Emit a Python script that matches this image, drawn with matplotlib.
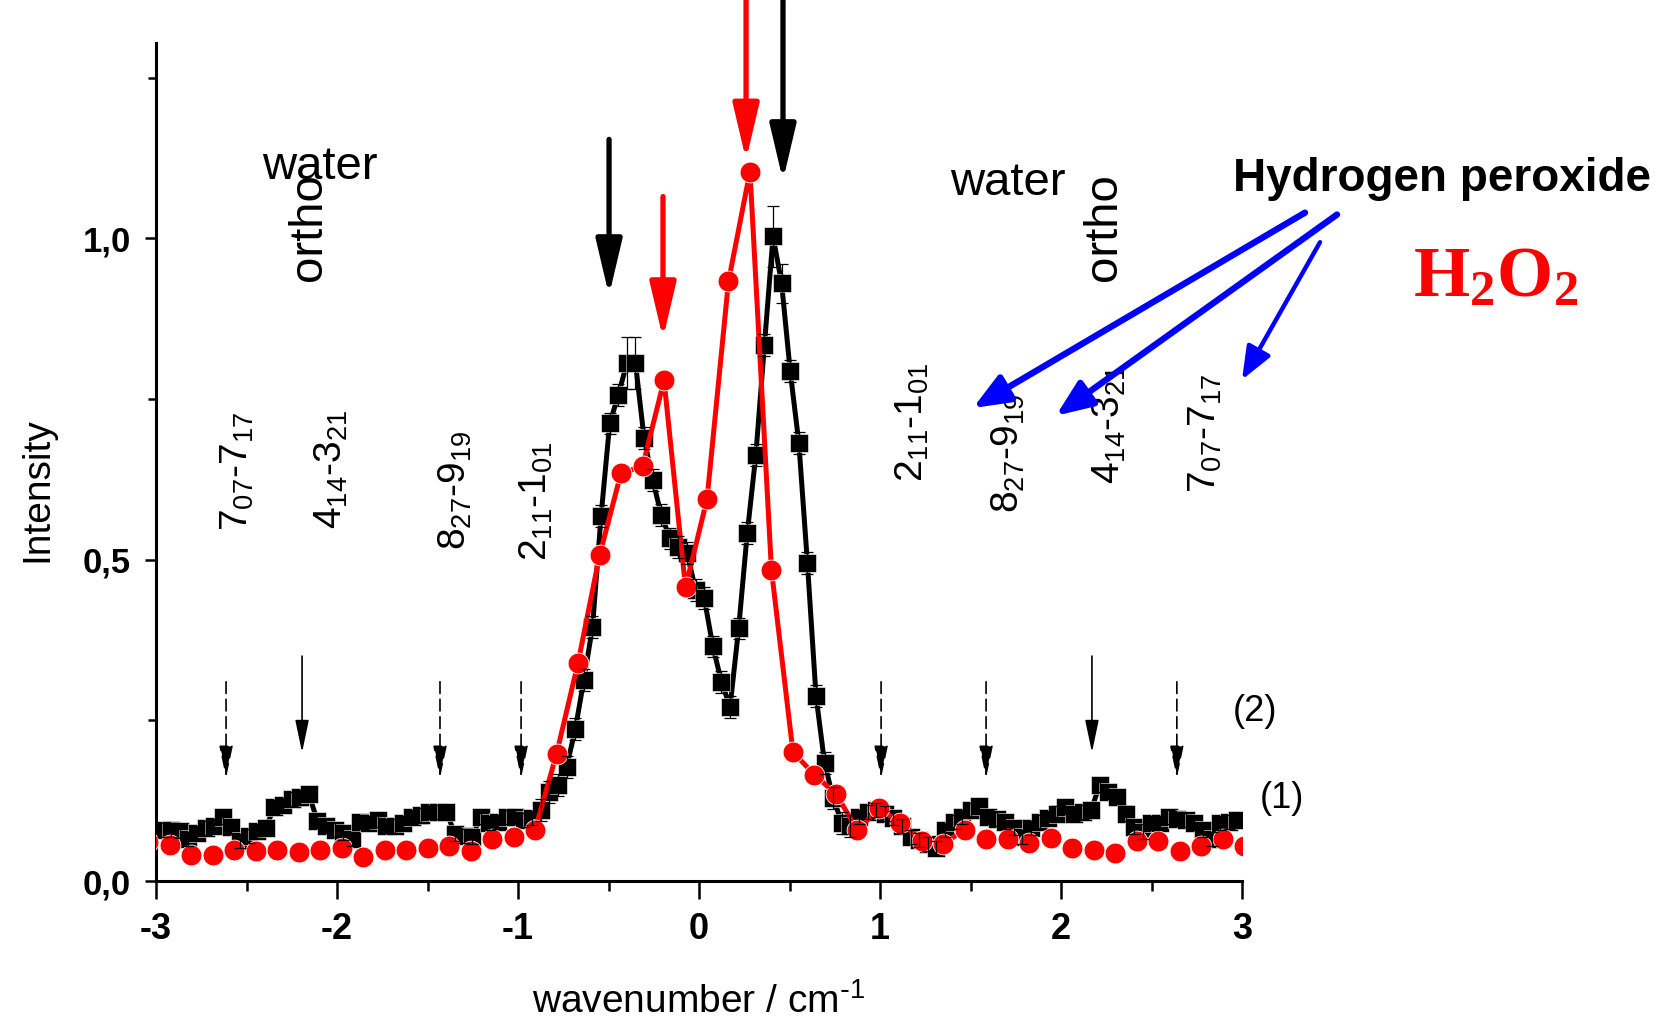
import numpy as np
import matplotlib
matplotlib.use('Agg')
import matplotlib.pyplot as plt

plt.rcParams['font.family'] = ['Liberation Sans', 'DejaVu Sans']
plt.rcParams['mathtext.default'] = 'regular'
plt.rcParams['axes.unicode_minus'] = False

# spectrum (1): black squares, sampled every ~0.0475 cm-1 starting at -2.9635
blk_start, blk_step = -2.9635, 0.0475
blk_y = [0.080, 0.080, 0.078, 0.066, 0.075, 0.082, 0.085, 0.100, 0.084, 0.062,
         0.070, 0.078, 0.083, 0.115, 0.118, 0.128, 0.130, 0.135, 0.094, 0.085,
         0.080, 0.075, 0.065, 0.092, 0.090, 0.095, 0.086, 0.085, 0.090, 0.100,
         0.102, 0.107, 0.108, 0.108, 0.073, 0.070, 0.068, 0.100, 0.090, 0.092,
         0.100, 0.100, 0.095, 0.098, 0.110, 0.139, 0.150, 0.178, 0.236, 0.313,
         0.395, 0.568, 0.712, 0.756, 0.806, 0.806, 0.689, 0.624, 0.570, 0.533,
         0.520, 0.510, 0.453, 0.440, 0.365, 0.310, 0.271, 0.393, 0.541, 0.663,
         0.834, 1.003, 0.930, 0.793, 0.682, 0.495, 0.288, 0.183, 0.129, 0.090,
         0.085, 0.100, 0.108, 0.110, 0.105, 0.098, 0.085, 0.069, 0.064, 0.058,
         0.051, 0.080, 0.092, 0.100, 0.110, 0.116, 0.100, 0.097, 0.092, 0.083,
         0.069, 0.082, 0.092, 0.098, 0.105, 0.115, 0.105, 0.107, 0.110, 0.150,
         0.139, 0.131, 0.105, 0.084, 0.077, 0.090, 0.090, 0.100, 0.097, 0.095,
         0.090, 0.080, 0.066, 0.090, 0.092, 0.095]
blk_x = blk_start + blk_step * np.arange(len(blk_y))
blk_err = np.full(len(blk_y), 0.011)
blk_err[44:81] = 0.017
blk_err[[54, 55]] = 0.04
blk_err[[71]] = 0.047
blk_err[[72]] = 0.03

# spectrum (2): red circles, sampled every ~0.1187 cm-1 starting at -3.042
red_start, red_step = -3.042, 0.1187
red_y = [0.060, 0.056, 0.040, 0.041, 0.048, 0.047, 0.049, 0.045, 0.049, 0.052,
         0.038, 0.048, 0.048, 0.052, 0.054, 0.046, 0.066, 0.068, 0.080, 0.198,
         0.340, 0.507, 0.635, 0.645, 0.779, 0.457, 0.594, 0.933, 1.104, 0.484,
         0.201, 0.165, 0.136, 0.079, 0.113, 0.091, 0.063, 0.058, 0.080, 0.066,
         0.066, 0.059, 0.067, 0.051, 0.048, 0.043, 0.063, 0.062, 0.046, 0.054,
         0.066, 0.054]
red_x = red_start + red_step * np.arange(len(red_y))
red_line_from, red_line_to = 18, 39

# water transitions (x positions of the thin arrows)
water_dashed = [-2.613, -1.431, -0.983, 1.006, 1.586, 2.640]
water_solid = [-2.193, 2.171]
water_labels = ['7$_{07}$-7$_{17}$', '4$_{14}$-3$_{21}$', '8$_{27}$-9$_{19}$', '2$_{11}$-1$_{01}$',
                '2$_{11}$-1$_{01}$', '8$_{27}$-9$_{19}$', '4$_{14}$-3$_{21}$', '7$_{07}$-7$_{17}$']

fig = plt.figure(figsize=(16.72, 10.30), dpi=100)
ax = fig.add_axes([156/1672, 149/1030, 1086/1672, 838/1030])
ax.set_xlim(-3, 3)
ax.set_ylim(0, 1.304)

ax.plot(blk_x, blk_y, '-', color='black', lw=3.6, zorder=2)
ax.plot(blk_x, blk_y, 's', ms=13, mfc='black', mec='white', mew=0.4, zorder=2.1)
ax.plot(red_x[red_line_from:red_line_to], red_y[red_line_from:red_line_to], '-',
        color='#ff0000', lw=3.6, zorder=3)
ax.plot(red_x, red_y, 'o', ms=15, mfc='#ff0000', mec='white', mew=0.6, zorder=3.1)
ax.errorbar(blk_x, blk_y, yerr=blk_err, fmt='none', ecolor='black',
            elinewidth=0.9, capsize=4, capthick=0.9, zorder=4)

for s in ['top', 'right']:
    ax.spines[s].set_visible(False)
for s in ['left', 'bottom']:
    ax.spines[s].set_linewidth(2.2)

ax.set_xticks([-3, -2, -1, 0, 1, 2, 3])
ax.set_xticks([-2.5, -1.5, -0.5, 0.5, 1.5, 2.5], minor=True)
ax.set_yticks([0, 0.5, 1.0])
ax.set_yticklabels(['0,0', '0,5', '1,0'])
ax.set_yticks([0.25, 0.75, 1.25], minor=True)
ax.tick_params(axis='x', which='major', length=13, width=1.8, direction='out', pad=9,
               labelsize=26)
ax.tick_params(axis='x', which='minor', length=7, width=1.8, direction='out')
ax.tick_params(axis='y', which='major', length=8, width=1.8, direction='out', pad=10,
               labelsize=25)
ax.tick_params(axis='y', which='minor', length=6, width=1.8, direction='out')
for lab in ax.get_xticklabels() + ax.get_yticklabels():
    lab.set_fontweight('bold')

fig.text(37/1672, 1 - 490/1030, 'Intensity', rotation=90, ha='center', va='center',
         fontsize=28)
fig.text(698/1672, 1 - 1002/1030, r'wavenumber / cm$^{\text{-}1}$', ha='center', va='center',
         fontsize=28)


def arrow(x0, y0, x1, y1, color, lw, hl, hw, ls='-'):
    ax.annotate('', xy=(x1, y1), xytext=(x0, y0), annotation_clip=False,
                arrowprops=dict(arrowstyle='-|>,head_length=%g,head_width=%g' % (hl, hw),
                                color=color, lw=lw, ls=ls, mutation_scale=1,
                                shrinkA=0, shrinkB=0), zorder=5)


# big peak arrows
arrow(-0.497, 1.154, -0.497, 0.911, 'black', 3.8, 34, 8)
arrow(0.464, 1.37, 0.464, 1.09, 'black', 3.8, 34, 8)
arrow(-0.199, 1.065, -0.199, 0.844, '#ff0000', 3.8, 34, 8)
arrow(0.260, 1.40, 0.260, 1.122, '#ff0000', 3.8, 34, 8)

# thin water-line arrows
for x in water_dashed:
    arrow(x, 0.31, x, 0.16, 'black', 1.2, 20, 4.2, ls=(0, (7, 3.5)))
for x in water_solid:
    arrow(x, 0.35, x, 0.20, 'black', 1.2, 20, 4.2)

# transition labels
lab_pos = [(-2.552, 0.638), (-2.033, 0.640), (-1.348, 0.608), (-0.900, 0.591),
           (1.177, 0.714), (1.707, 0.666), (2.265, 0.711), (2.796, 0.696)]
for (x, y), t in zip(lab_pos, water_labels):
    ax.text(x, y, t, rotation=90, ha='center', va='center', fontsize=28)

ax.text(-2.094, 1.111, 'water', ha='center', va='center', fontsize=34)
ax.text(-2.155, 1.018, 'ortho', rotation=90, ha='center', va='center', fontsize=34)
ax.text(1.707, 1.086, 'water', ha='center', va='center', fontsize=34)
ax.text(2.238, 1.018, 'ortho', rotation=90, ha='center', va='center', fontsize=34)

ax.text(4.105, 1.093, 'Hydrogen peroxide', ha='center', va='center', fontsize=33,
        fontweight='bold')
ax.text(4.403, 0.937, 'H$_2$O$_2$', ha='center', va='center', fontsize=52,
        fontweight='bold', color='#ff0000', family=['Liberation Serif', 'DejaVu Serif'])

ax.text(3.072, 0.263, '(2)', ha='center', va='center', fontsize=26)
ax.text(3.221, 0.129, '(1)', ha='center', va='center', fontsize=26)

# blue arrows from the H2O2 label
arrow(3.348, 1.040, 1.514, 0.736, '#0000ff', 4.6, 22, 9)
arrow(3.525, 1.037, 1.972, 0.724, '#0000ff', 4.6, 22, 9)
arrow(3.431, 0.994, 3.000, 0.780, '#0000ff', 3.2, 20, 8)

fig.savefig('out.png', dpi=100)
